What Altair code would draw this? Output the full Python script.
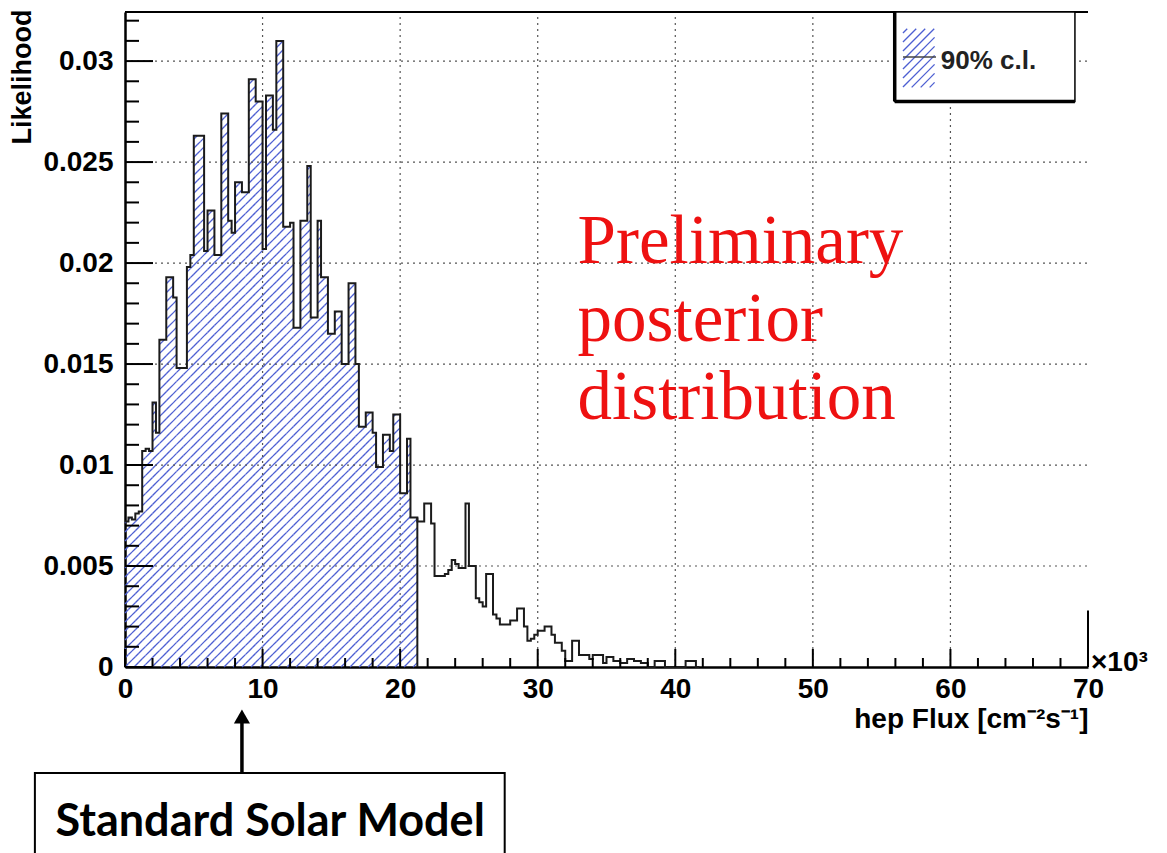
import math
import altair as alt
import pandas as pd

# ---------------- data ----------------
X_MAX = 70.0          # hep flux axis, in units of 10^3 cm^-2 s^-1
Y_MAX = 0.03243       # top of the frame
BIN_WIDTH = 0.25      # histogram bin width (x10^3)
CL_BINS = 85          # bins shaded as the 90% c.l. region (0 -> 21.25)

likelihood = [
    0.0072, 0.0074, 0.0073, 0.0076, 0.0077,   # 0.00 - 1.25
    0.0107, 0.0108, 0.0107, 0.0131, 0.0116,
    0.0162, 0.0162, 0.0193, 0.0193, 0.0183,
    0.0148, 0.0148, 0.0148, 0.0198, 0.0204,
    0.0263, 0.0263, 0.0263, 0.0206, 0.0226,
    0.0226, 0.0204, 0.0204, 0.0274, 0.0274,
    0.0221, 0.0215, 0.0240, 0.0240, 0.0235,
    0.0235, 0.0291, 0.0291, 0.0280, 0.0280,
    0.0207, 0.0283, 0.0283, 0.0266, 0.0310,
    0.0310, 0.0218, 0.0218, 0.0220, 0.0168,
    0.0168, 0.0221, 0.0221, 0.0248, 0.0173,
    0.0173, 0.0221, 0.0193, 0.0193, 0.0165,
    0.0165, 0.0176, 0.0176, 0.0150, 0.0150,
    0.0190, 0.0190, 0.0150, 0.0119, 0.0119,
    0.0126, 0.0126, 0.0116, 0.0099, 0.0099,
    0.0115, 0.0115, 0.0107, 0.0125, 0.0125,
    0.0086, 0.0086, 0.0113, 0.0074, 0.0074,
    0.0072, 0.0072, 0.0081, 0.0081, 0.0071,
    0.0045, 0.0045, 0.0045, 0.0046, 0.0048,
    0.0053, 0.0051, 0.0049, 0.0049, 0.0081,
    0.0050, 0.0050, 0.0034, 0.0032, 0.0030,
    0.0046, 0.0046, 0.0026, 0.0024, 0.0021,
    0.0021, 0.0021, 0.0023, 0.0023, 0.0029,
    0.0029, 0.0020, 0.0013, 0.0014, 0.0016,
    0.0018, 0.0018, 0.0020, 0.0020, 0.0016,
    0.0012, 0.0012, 0.0008, 0.0003, 0.0003,
    0.0013, 0.0013, 0.0006, 0.0006, 0.0006,
    0.0004, 0.0006, 0.0006, 0.0006, 0.0002,
    0.0005, 0.0005, 0.0003, 0.0003, 0.0002,
    0.0002, 0.0004, 0.0004, 0.0003, 0.0003,
    0.0002, 0.0002, 0.0000, 0.0000, 0.0003,
    0.0003, 0.0003, 0.0000, 0.0000, 0.0000,
    0.0000, 0.0000, 0.0000, 0.0003, 0.0003,
    0.0003, 0.0000,
]

x_labels = [0, 10, 20, 30, 40, 50, 60, 70]
y_labels = [0, 0.005, 0.01, 0.015, 0.02, 0.025, 0.03]
x_grid = [10, 20, 30, 40, 50, 60]
y_grid = [0.005, 0.01, 0.015, 0.02, 0.025, 0.03]
x_minor_step = 2.0
y_minor_step = 0.001

legend_label = "90% c.l."
watermark = ["Preliminary", "posterior", "distribution"]
ssm_label = "Standard Solar Model"
ssm_flux = 8.5

# ---------------- layout ----------------
PLOT_W, PLOT_H = 963, 655
FONT = "Liberation Sans"
HATCH = "#4d5fd2"

XS = alt.Scale(domain=[0, X_MAX], nice=False, zero=False)
YS = alt.Scale(domain=[0, Y_MAX], nice=False, zero=False)

AX_X = alt.Axis(
    values=x_labels, format="d", title="hep Flux [cm⁻²s⁻¹]", grid=False, ticks=False, tickSize=0,
    domain=True, domainColor="black", domainWidth=2.5, labelFont=FONT, labelFontWeight="bold",
    labelFontSize=28, labelColor="black", labelPadding=8, labelFlush=False, labelOverlap=False,
    titleFont=FONT, titleFontWeight="bold", titleFontSize=28, titleColor="black",
    titleAnchor="end", titleAlign="right", titleX=PLOT_W, titleY=60, titleBaseline="alphabetic")
AX_Y = alt.Axis(
    values=y_labels, format="~g", title="Likelihood", grid=False, ticks=False, tickSize=0,
    domain=True, domainColor="black", domainWidth=2.5, labelFont=FONT, labelFontWeight="bold",
    labelFontSize=28, labelColor="black", labelPadding=12, labelFlush=False, labelOverlap=False,
    titleFont=FONT, titleFontWeight="bold", titleFontSize=27, titleColor="black",
    titleAngle=270, titleAnchor="end", titleAlign="right", titleX=-103, titleY=-3,
    titleBaseline="middle")


def enc(x="x", y="y", x2=None, y2=None):
    e = dict(x=alt.X(f"{x}:Q", scale=XS, axis=AX_X), y=alt.Y(f"{y}:Q", scale=YS, axis=AX_Y))
    if x2:
        e["x2"] = alt.X2(f"{x2}:Q")
    if y2:
        e["y2"] = alt.Y2(f"{y2}:Q")
    return e


def hatch(rects, spacing=9.0):
    """45-degree '/' hatch lines clipped to rectangles (data units)."""
    sx, sy = PLOT_W / X_MAX, PLOT_H / Y_MAX
    segs = []
    for x0, x1, y0, y1 in rects:
        a, b, p, q = x0 * sx, x1 * sx, y0 * sy, y1 * sy
        if q <= p:
            continue
        for k in range(math.floor((a - q) / spacing) - 1, math.ceil((b - p) / spacing) + 2):
            c = k * spacing
            lo, hi = max(a, c + p), min(b, c + q)
            if hi - lo > 1e-6:
                segs.append({"x": lo / sx, "y": (lo - c) / sy, "x2": hi / sx, "y2": (hi - c) / sy})
    return pd.DataFrame(segs)


n = len(likelihood)
lo_edges = [i * BIN_WIDTH for i in range(n)]
hist = pd.DataFrame({"x": lo_edges, "y": likelihood})
outline = pd.concat([hist, pd.DataFrame({"x": [n * BIN_WIDTH], "y": [likelihood[-1]]})], ignore_index=True)

fill_rects = [(lo_edges[i], lo_edges[i] + BIN_WIDTH, 0.0, likelihood[i]) for i in range(CL_BINS)]
hatch_df = hatch(fill_rects)
cl_edge = CL_BINS * BIN_WIDTH

layers = []

# hatched 90% c.l. region
layers.append(alt.Chart(hatch_df).mark_rule(color=HATCH, strokeWidth=1.3).encode(**enc(x2="x2", y2="y2")))

# dotted grid
gx = pd.DataFrame({"x": x_grid, "y": 0.0, "y2": Y_MAX})
gy = pd.DataFrame({"x": 0.0, "x2": X_MAX, "y": y_grid})
layers.append(alt.Chart(gx).mark_rule(color="#555555", strokeWidth=1.2, strokeDash=[2, 4]).encode(**enc(y2="y2")))
layers.append(alt.Chart(gy).mark_rule(color="#555555", strokeWidth=1.2, strokeDash=[2, 4]).encode(**enc(x2="x2")))

# histogram outline
layers.append(alt.Chart(outline).mark_line(interpolate="step-after", color="#1b1b1b", strokeWidth=2)
              .encode(**enc()))

# right edge of the shaded histogram
layers.append(alt.Chart(pd.DataFrame({"x": [cl_edge], "y": [0.0], "y2": [likelihood[CL_BINS - 1]]}))
              .mark_rule(color="#1b1b1b", strokeWidth=2).encode(**enc(y2="y2")))

# ticks (inside the frame, ROOT style)
sx, sy = PLOT_W / X_MAX, PLOT_H / Y_MAX
xt = []
for i in range(int(X_MAX / x_minor_step) + 1):
    v = i * x_minor_step
    major = abs(v / 10 - round(v / 10)) < 1e-9
    xt.append({"x": v, "y": 0.0, "y2": (18 if major else 9) / sy})
yt = []
for i in range(int(round(Y_MAX / y_minor_step)) + 1):
    v = i * y_minor_step
    major = i % 5 == 0
    yt.append({"x": 0.0, "x2": (28 if major else 14) / sx, "y": v})
layers.append(alt.Chart(pd.DataFrame(xt)).mark_rule(color="black", strokeWidth=2).encode(**enc(y2="y2")))
layers.append(alt.Chart(pd.DataFrame(yt)).mark_rule(color="black", strokeWidth=2).encode(**enc(x2="x2")))

# frame pieces: top line and short right edge
layers.append(alt.Chart(pd.DataFrame({"x": [0.0], "x2": [X_MAX], "y": [Y_MAX]}))
              .mark_rule(color="black", strokeWidth=2).encode(**enc(x2="x2")))
layers.append(alt.Chart(pd.DataFrame({"x": [X_MAX], "y": [0.0], "y2": [0.0028]}))
              .mark_rule(color="black", strokeWidth=2).encode(**enc(y2="y2")))

# legend box
LX0, LX1, LY0, LY1 = 55.95, 69.05, 0.0280, Y_MAX
layers.append(alt.Chart(pd.DataFrame({"x": [LX0], "x2": [LX1], "y": [LY0], "y2": [LY1]}))
              .mark_rect(fill="white", stroke="black", strokeWidth=1.5).encode(**enc(x2="x2", y2="y2")))
layers.append(alt.Chart(pd.DataFrame({"x": [LX0], "y": [LY0], "y2": [LY1]}))
              .mark_rule(color="black", strokeWidth=3.5).encode(**enc(y2="y2")))
layers.append(alt.Chart(pd.DataFrame({"x": [LX0], "x2": [LX1], "y": [LY0]}))
              .mark_rule(color="black", strokeWidth=3.5).encode(**enc(x2="x2")))
sw = hatch([(56.55, 58.85, 0.0287, 0.0316)], spacing=9.0)
layers.append(alt.Chart(sw).mark_rule(color=HATCH, strokeWidth=1.3).encode(**enc(x2="x2", y2="y2")))
layers.append(alt.Chart(pd.DataFrame({"x": [56.55], "x2": [58.95], "y": [0.0302]}))
              .mark_rule(color="#444444", strokeWidth=1.5).encode(**enc(x2="x2")))
layers.append(alt.Chart(pd.DataFrame({"x": [59.3], "y": [0.0300], "t": [legend_label]}))
              .mark_text(font=FONT, fontWeight="bold", fontSize=26, color="#222222", align="left",
                         baseline="middle").encode(text="t:N", **enc()))

# red watermark
layers.append(alt.Chart(pd.DataFrame({"x": [32.9], "y": [0.0200]}))
              .mark_text(font="Liberation Serif", fontSize=69, color="#ee1111", align="left",
                         baseline="alphabetic", lineHeight=78)
              .encode(text=alt.value(watermark), **enc()))

# x10^3 multiplier
layers.append(alt.Chart(pd.DataFrame({"x": [X_MAX], "y": [-0.0002], "t": ["×10³"]}))
              .mark_text(font=FONT, fontWeight="bold", fontSize=28, color="black", align="left",
                         baseline="alphabetic", dx=3).encode(text="t:N", **enc()))

# Standard Solar Model annotation (below the axis)
layers.append(alt.Chart(pd.DataFrame({"x": [ssm_flux], "y": [-0.00525], "y2": [-0.0024]}))
              .mark_rule(color="black", strokeWidth=3.5).encode(**enc(y2="y2")))
layers.append(alt.Chart(pd.DataFrame({"x": [ssm_flux], "y": [-0.00245]}))
              .mark_point(shape="triangle-up", size=260, filled=True, color="black", opacity=1)
              .encode(**enc()))
layers.append(alt.Chart(pd.DataFrame({"x": [-6.55], "x2": [27.6], "y": [-0.00525], "y2": [-0.0105]}))
              .mark_rect(fill="white", stroke="black", strokeWidth=2).encode(**enc(x2="x2", y2="y2")))
layers.append(alt.Chart(pd.DataFrame({"x": [10.55], "y": [-0.00767], "t": [ssm_label]}))
              .mark_text(font="Lato", fontWeight="bold", fontSize=45, color="black", align="center",
                         baseline="middle").encode(text="t:N", **enc()))

chart = alt.layer(*layers).properties(
    width=PLOT_W, height=PLOT_H,
    padding={"left": 125, "top": 12, "right": 79, "bottom": 186},
    autosize=alt.AutoSizeParams(type="none"),
    background="white",
).configure_view(stroke=None)

chart.save("out.html", embed_options={"renderer": "svg", "actions": False})
